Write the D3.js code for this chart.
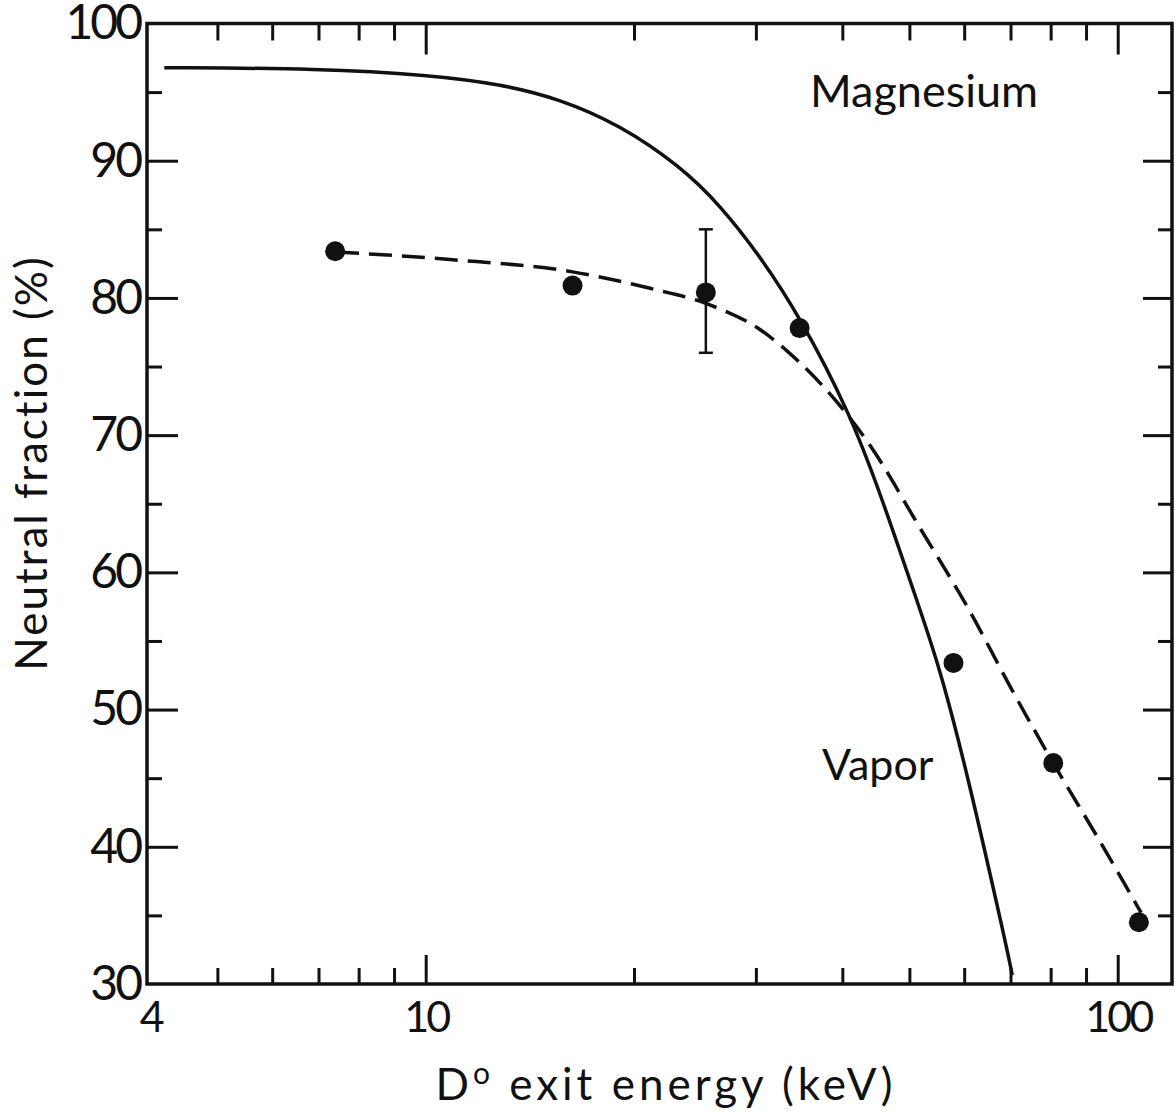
<!DOCTYPE html>
<html>
<head>
<meta charset="utf-8">
<script src="https://cdn.jsdelivr.net/npm/d3@7"></script>
<style>
  body { margin: 0; background: #fff; }
  text { font-family: Lato, "DejaVu Sans", sans-serif; fill: #111; }
</style>
</head>
<body>
<svg id="svg" width="1175" height="1115"></svg>
<script>
// measured points (D0 exit energy keV, neutral fraction %)
var dotEnergy   = [7.4, 16.3, 25.4, 34.7, 57.9, 80.7, 107.3];
var dotFraction = [83.4, 80.9, 80.4, 77.8, 53.4, 46.1, 34.5];
// error bar on the third point
var errIndex = 2, errLow = 76, errHigh = 85;

// magnesium (solid) curve
var solidEnergy   = [4.19, 7.04, 10.14, 12.81, 15.64, 19.09, 23.31, 26.63, 30.42, 34.75, 41.03, 45.5, 51.23, 55.05, 60.16, 69.1, 70.4];
var solidFraction = [96.78, 96.72, 96.25, 95.59, 94.5, 92.6, 89.61, 86.77, 83.05, 78.61, 71.6, 65.6, 57.98, 53.37, 46.08, 32.71, 30.65];

// vapor (dashed) curve
var dashEnergy   = [7.42, 10.84, 16.3, 21.1, 25.4, 30.4, 34.7, 39.6, 43.8, 51.7, 61.0, 70.4, 80.7, 94.0, 108.1];
var dashFraction = [83.35, 82.8, 81.9, 80.7, 79.6, 77.7, 75.3, 72.2, 69.3, 63.3, 57.25, 51.4, 46.1, 40.5, 35.2];

var xMajor = [10, 100],
    xMinor = [5, 6, 7, 8, 9, 20, 30, 40, 50, 60, 70, 80, 90],
    xLabels = [4, 10, 100];
var yMajor = [40, 50, 60, 70, 80, 90],
    yMinor = [35, 45, 55, 65, 75, 85, 95],
    yLabels = [30, 40, 50, 60, 70, 80, 90, 100];

var svg = d3.select("#svg");
var plotL = 147, plotR = 1172, plotT = 23.5, plotB = 984;

var x = d3.scaleLog().domain([3.956, 119.8]).range([plotL, plotR]);
var y = d3.scaleLinear().domain([30, 100]).range([plotB, plotT]);

function axisStyle(g) {
  g.select(".domain").remove();
  g.selectAll(".tick line").attr("stroke", "#111").attr("stroke-width", 3);
}

// ticks, all pointing inward
svg.append("g").attr("transform", "translate(0," + plotB + ")")
  .call(d3.axisBottom(x).tickValues(xMajor).tickSize(-29).tickFormat("")).call(axisStyle);
svg.append("g").attr("transform", "translate(0," + plotB + ")")
  .call(d3.axisBottom(x).tickValues(xMinor).tickSize(-16).tickFormat("")).call(axisStyle);
svg.append("g").attr("transform", "translate(0," + plotT + ")")
  .call(d3.axisTop(x).tickValues(xMajor).tickSize(-31).tickFormat("")).call(axisStyle);
svg.append("g").attr("transform", "translate(0," + plotT + ")")
  .call(d3.axisTop(x).tickValues(xMinor).tickSize(-17).tickFormat("")).call(axisStyle);

svg.append("g").attr("transform", "translate(" + plotL + ",0)")
  .call(d3.axisLeft(y).tickValues(yMajor).tickSize(-31).tickFormat("")).call(axisStyle);
svg.append("g").attr("transform", "translate(" + plotL + ",0)")
  .call(d3.axisLeft(y).tickValues(yMinor).tickSize(-15).tickFormat("")).call(axisStyle);
svg.append("g").attr("transform", "translate(" + plotR + ",0)")
  .call(d3.axisRight(y).tickValues(yMajor).tickSize(-29).tickFormat("")).call(axisStyle);
svg.append("g").attr("transform", "translate(" + plotR + ",0)")
  .call(d3.axisRight(y).tickValues(yMinor).tickSize(-14).tickFormat("")).call(axisStyle);

// tick labels
var xl = svg.append("g").attr("transform", "translate(0," + plotB + ")")
  .call(d3.axisBottom(x).tickValues(xLabels).tickSize(0).tickPadding(17).tickFormat(d3.format("d")));
xl.select(".domain").remove();
xl.selectAll("text").attr("font-size", 43).attr("font-family", "Lato, sans-serif")
  .attr("fill", "#111").attr("letter-spacing", -3);

var yl = svg.append("g").attr("transform", "translate(" + plotL + ",0)")
  .call(d3.axisLeft(y).tickValues(yLabels).tickSize(0).tickPadding(7).tickFormat(d3.format("d")));
yl.select(".domain").remove();
yl.selectAll("text").attr("font-size", 48).attr("font-family", "Lato, sans-serif")
  .attr("fill", "#111").attr("letter-spacing", -3);

// frame
svg.append("rect")
  .attr("x", plotL).attr("y", plotT)
  .attr("width", plotR - plotL).attr("height", plotB - plotT)
  .attr("fill", "none").attr("stroke", "#111").attr("stroke-width", 3.5);

// curves
var line = d3.line()
  .x(function(d) { return x(d[0]); })
  .y(function(d) { return y(d[1]); });

svg.append("path")
  .datum(d3.zip(solidEnergy, solidFraction))
  .attr("d", line.curve(d3.curveBasis))
  .attr("fill", "none").attr("stroke", "#111").attr("stroke-width", 3.5);

svg.append("path")
  .datum(d3.zip(dashEnergy, dashFraction))
  .attr("d", line.curve(d3.curveMonotoneX))
  .attr("fill", "none").attr("stroke", "#111").attr("stroke-width", 3.5)
  .attr("stroke-dasharray", "23,10");

// error bar
var ex = x(dotEnergy[errIndex]);
svg.append("line").attr("x1", ex).attr("x2", ex).attr("y1", y(errHigh)).attr("y2", y(errLow))
  .attr("stroke", "#111").attr("stroke-width", 2.5);
[errHigh, errLow].forEach(function(v) {
  svg.append("line").attr("x1", ex - 7).attr("x2", ex + 7).attr("y1", y(v)).attr("y2", y(v))
    .attr("stroke", "#111").attr("stroke-width", 2.5);
});

// dots
svg.append("g").selectAll("circle")
  .data(d3.zip(dotEnergy, dotFraction))
  .enter().append("circle")
  .attr("cx", function(d) { return x(d[0]); })
  .attr("cy", function(d) { return y(d[1]); })
  .attr("r", 10)
  .attr("fill", "#111");

// labels
svg.append("text").attr("x", 810).attr("y", 107).attr("font-size", 45).text("Magnesium");
svg.append("text").attr("x", 822).attr("y", 780).attr("font-size", 43).text("Vapor");

svg.append("text")
  .attr("transform", "translate(47,463) rotate(-90)")
  .attr("text-anchor", "middle").attr("font-size", 44).attr("letter-spacing", 2)
  .text("Neutral fraction (%)");

var xt = svg.append("text")
  .attr("x", 666).attr("y", 1100)
  .attr("text-anchor", "middle").attr("font-size", 44).attr("letter-spacing", 4);
xt.append("tspan").text("D");
xt.append("tspan").attr("dy", -16).attr("font-size", 30).text("o");
xt.append("tspan").attr("dy", 16).text(" exit energy (keV)");
</script>
</body>
</html>
